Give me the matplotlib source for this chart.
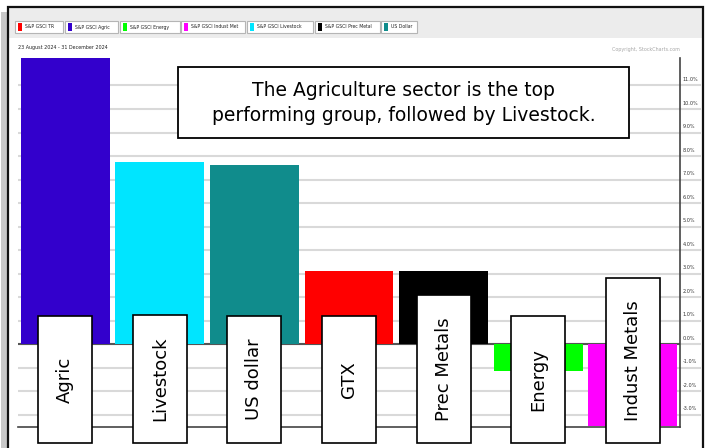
import matplotlib
matplotlib.use('Agg')
import matplotlib.pyplot as plt
from matplotlib.patches import Rectangle
from matplotlib import font_manager
from matplotlib.transforms import ScaledTranslation, blended_transform_factory

# performance values (23 Aug - 31 Dec 2024)
categories = ['Agric', 'Livestock', 'US dollar', 'GTX', 'Prec Metals', 'Energy', 'Indust Metals']
perf = [12.18, 7.73, 7.62, 3.12, 3.10, -1.15, -3.49]
bar_colors = ['#3300cc', '#00e5ff', '#108c8c', '#ff0000', '#000000', '#00ff00', '#ff00ff']

legend_names = ['S&P GSCI TR', 'S&P GSCI Agric', 'S&P GSCI Energy', 'S&P GSCI Indust Met',
                'S&P GSCI Livestock', 'S&P GSCI Prec Metal', 'US Dollar']
legend_colors = ['#ff0000', '#3300cc', '#00ff00', '#ff00ff', '#00e5ff', '#000000', '#108c8c']

yticks = list(range(-3, 12))
ytick_labels = [f'{v:.1f}%' for v in yticks]
date_range = '23 August 2024 - 31 December 2024'
copyright_txt = 'Copyright, StockCharts.com'
note = 'The Agriculture sector is the top\nperforming group, followed by Livestock.'

W, H = 706, 448

# small condensed font for the StockCharts furniture, if there is one
installed = {f.name for f in font_manager.fontManager.ttflist}
small_font = 'Liberation Sans Narrow' if 'Liberation Sans Narrow' in installed else 'DejaVu Sans'


def fig_rect(x0, y0, x1, y1, **kw):
    # rectangle in pixel coords measured from the top-left corner
    r = Rectangle((x0 / W, 1 - y1 / H), (x1 - x0) / W, (y1 - y0) / H,
                  transform=fig.transFigure, **kw)
    fig.add_artist(r)
    return r


def small_text(xp, yp, s, size, **kw):
    return fig.text(xp / W, 1 - yp / H, s, fontsize=size, family=small_font,
                    fontstretch='condensed', va='center', **kw)


fig = plt.figure(figsize=(W / 100, H / 100), dpi=100)

# outer frame, shadow and legend strip
fig_rect(1, 12, 7, 448, facecolor='#c8c8c8', edgecolor='none', zorder=0)
fig_rect(8, 8, 703, 38, facecolor='#ececec', edgecolor='none', zorder=0)
fig_rect(8, 7, 703, 470, facecolor='none', edgecolor='#111111', lw=1.6, zorder=1)

lefts = [15, 65, 120, 181, 247, 315, 381]
rights = [63, 118, 180, 245, 313, 380, 417]
for name, col, l, r in zip(legend_names, legend_colors, lefts, rights):
    fig_rect(l, 21, r, 33, facecolor='white', edgecolor='#b5b5b5', lw=0.8, zorder=2)
    fig_rect(l + 3, 23, l + 7, 31, facecolor=col, edgecolor='none', zorder=3)
    small_text(l + 10, 27, name, 3.7, ha='left', color='#222222', zorder=3)

small_text(18, 47, date_range, 3.9, ha='left', color='#222222')
small_text(680, 50, copyright_txt, 3.9, ha='right', color='#a8a8a8')

# main axes
ax = fig.add_axes([18 / W, 1 - 427 / H, (680 - 18) / W, (427 - 58) / H])
x = list(range(len(categories)))
ax.bar(x, perf, width=0.94, color=bar_colors, zorder=2)
ax.set_xlim(-0.5, 6.5)
ax.set_ylim(-3.53, 12.17)

ax.set_yticks(yticks)
ax.set_yticklabels(ytick_labels)
ax.yaxis.tick_right()
ax.grid(axis='y', color='#d9d9d9', lw=1.5, zorder=0)
ax.set_axisbelow(True)
ax.tick_params(axis='y', right=True, left=False, length=15, width=1.5, color='#d9d9d9',
               pad=-12.9, labelsize=4.0, labelcolor='#333333')
ax.tick_params(axis='x', bottom=False, labelbottom=False)
for lab in ax.get_yticklabels():
    lab.set_fontfamily(small_font)
    lab.set_fontstretch('condensed')
    lab.set_transform(lab.get_transform() + ScaledTranslation(0, 0.065, fig.dpi_scale_trans))
zero_tick = ax.yaxis.get_major_ticks()[yticks.index(0)]
zero_tick.tick2line.set_color('#555555')
ax.axhline(0, color='#555555', lw=1.5, zorder=1.5)

for side in ['left', 'top']:
    ax.spines[side].set_visible(False)
for side in ['right', 'bottom']:
    ax.spines[side].set_color('#444444')
    ax.spines[side].set_linewidth(1.2)

# boxed category names sitting over the bars
blend = blended_transform_factory(ax.transData, fig.transFigure)
renderer = fig.canvas.get_renderer()
box_bottom = 5 / H
for i, name in zip(x, categories):
    t = ax.text(i, 0.5, name, rotation=90, ha='center', va='center', fontsize=13,
                color='black', transform=blend, zorder=5, clip_on=False)
    h = max(127, t.get_window_extent(renderer).height + 44) / H
    t.set_position((i, box_bottom + h / 2))
    ax.add_patch(Rectangle((i - 0.285, box_bottom), 0.57, h, transform=blend,
                           facecolor='white', edgecolor='black', lw=1.2,
                           clip_on=False, zorder=4))

# annotation box
fig_rect(178, 67, 629, 138, facecolor='white', edgecolor='black', lw=1.3, zorder=6)
fig.text(403.5 / W, 1 - 103 / H, note, fontsize=13.5, ha='center', va='center',
         linespacing=1.4, color='black', zorder=7)

fig.savefig('out.png', dpi=100)
